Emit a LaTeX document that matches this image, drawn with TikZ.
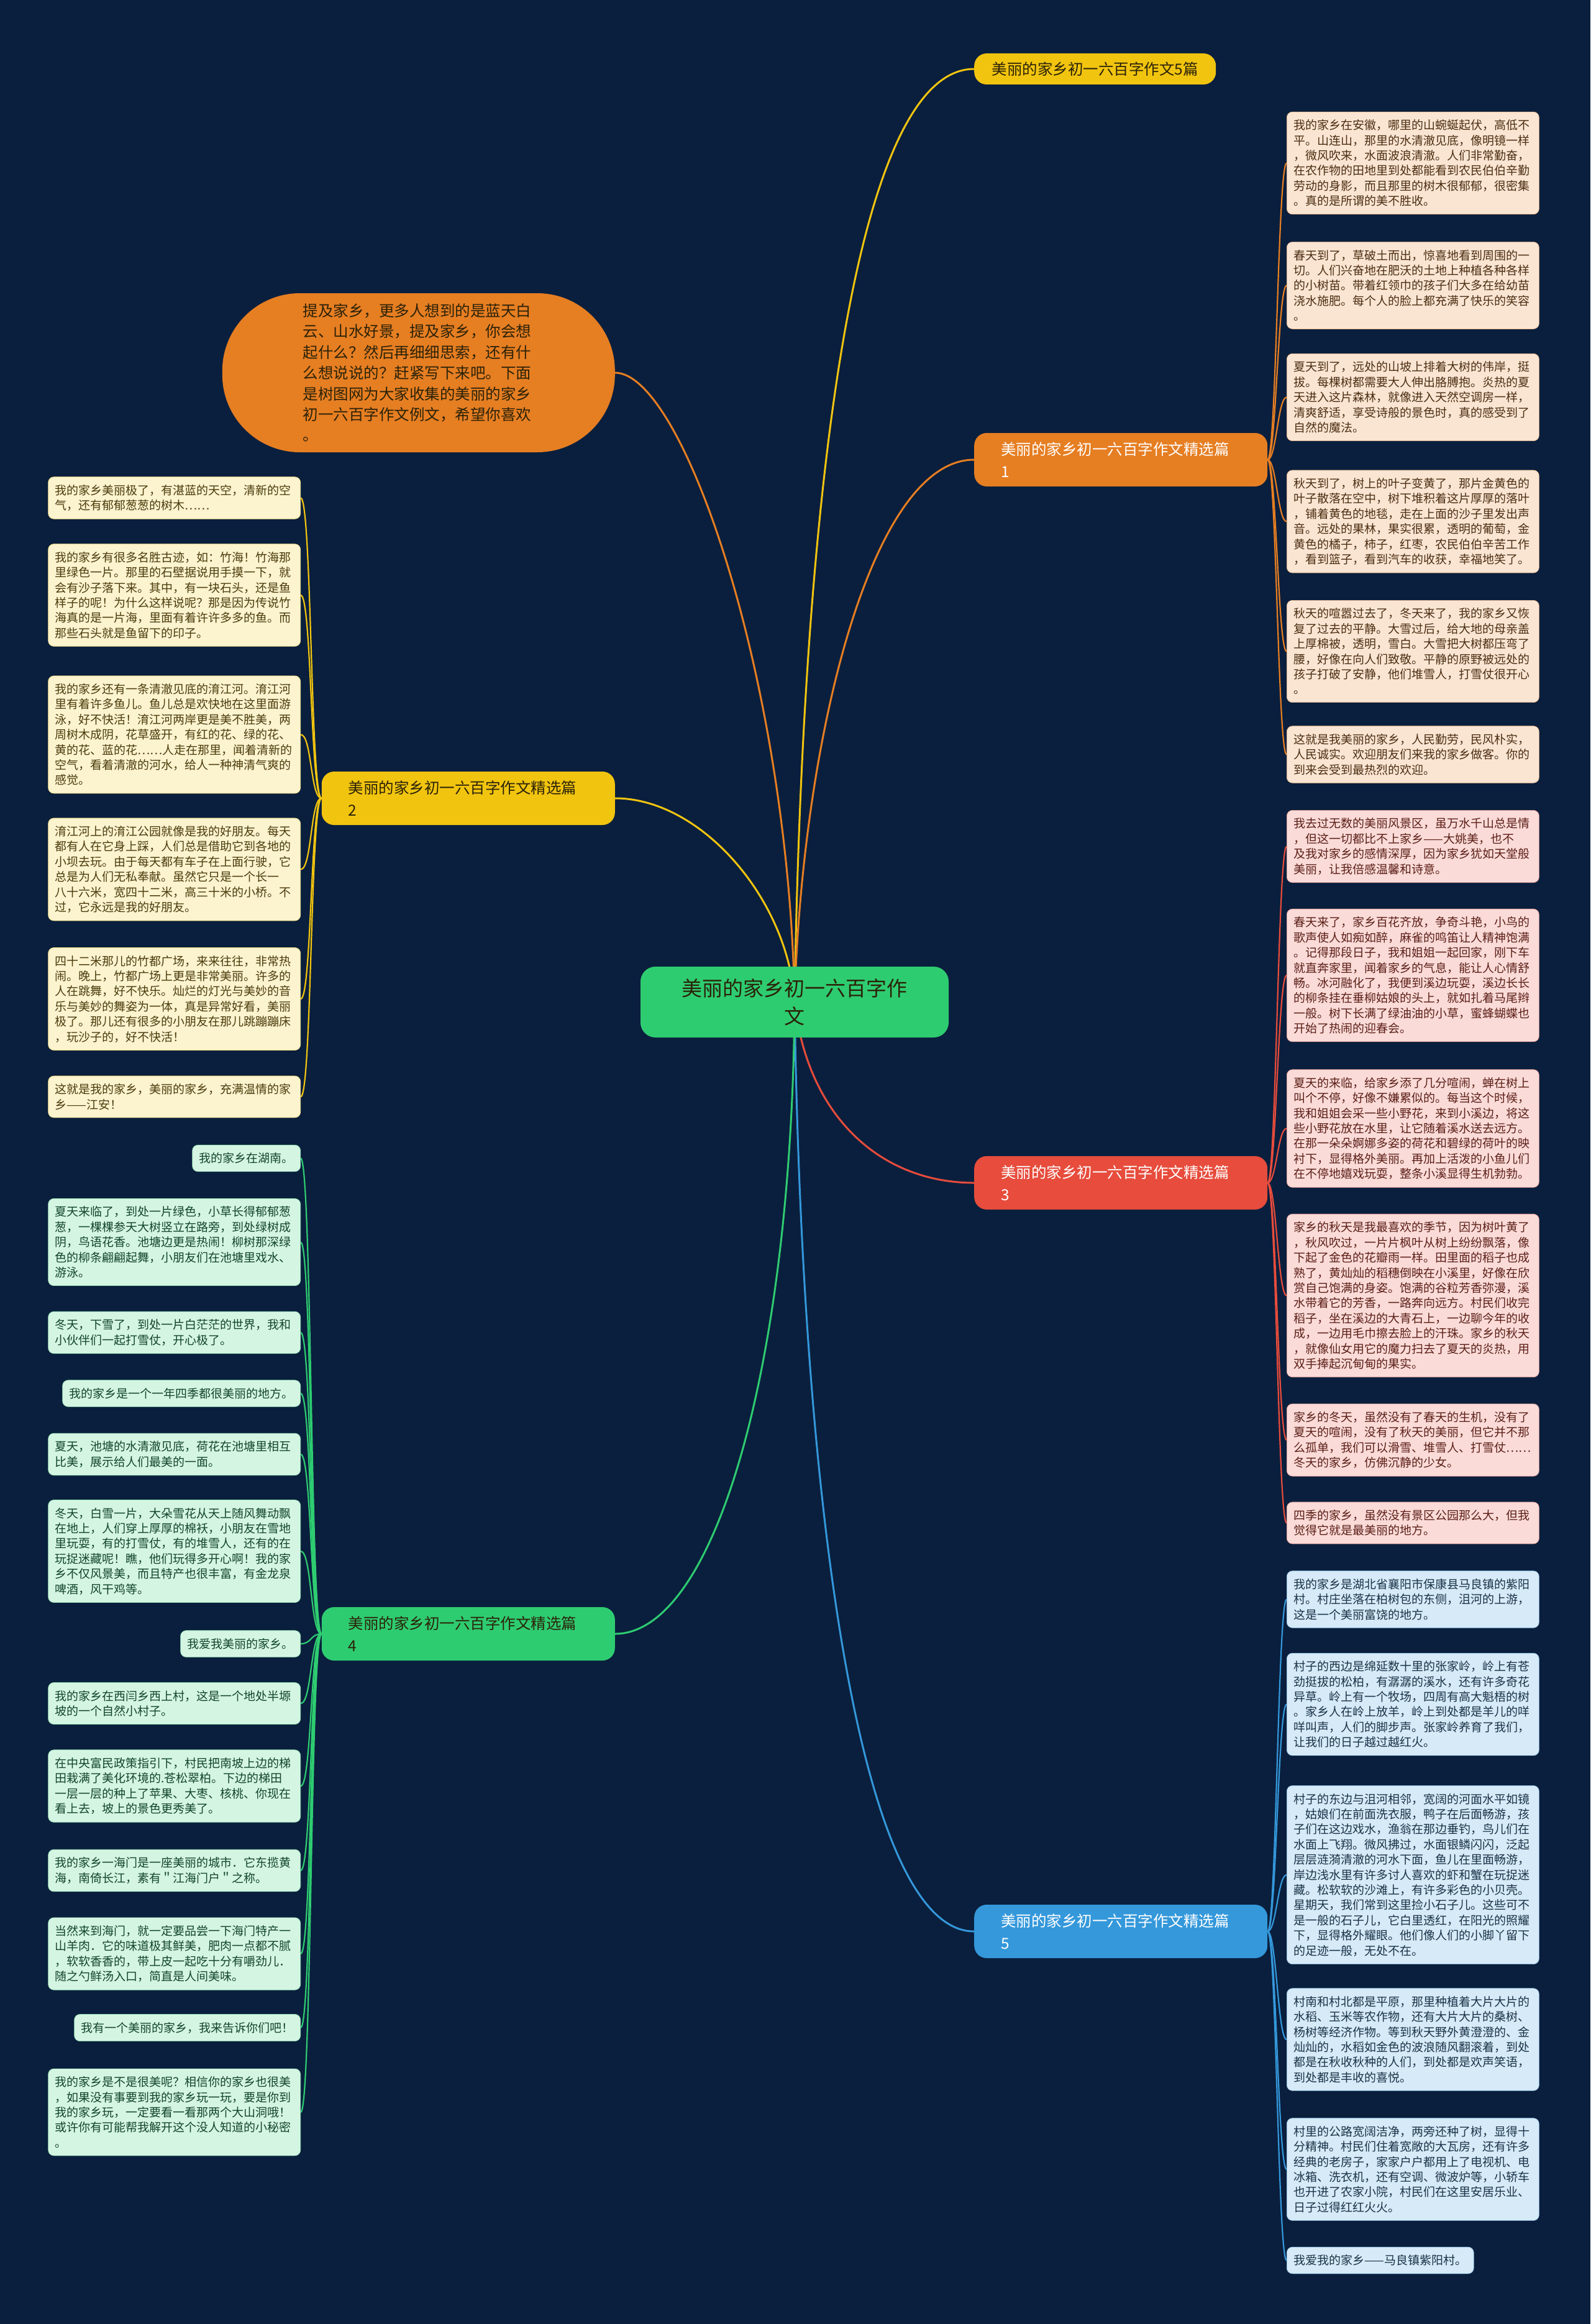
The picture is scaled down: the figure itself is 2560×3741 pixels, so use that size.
\documentclass[tikz,border=0pt]{standalone}
\usepackage{fontspec}
\setmainfont{Noto Sans CJK SC}
\pgfdeclarelayer{back}
\pgfdeclarelayer{bg}
\pgfsetlayers{back,bg,main}
\definecolor{bgc}{HTML}{0A1F3D}
\definecolor{cgreen}{HTML}{2ECC71}
\definecolor{cyellow}{HTML}{F1C40F}
\definecolor{corange}{HTML}{E67E22}
\definecolor{cred}{HTML}{E74C3C}
\definecolor{cblue}{HTML}{3498DB}
\definecolor{fo}{HTML}{FAE5D3}
\definecolor{fr}{HTML}{FADBD8}
\definecolor{fb}{HTML}{D6EAF8}
\definecolor{fy}{HTML}{FCF3CF}
\definecolor{fg}{HTML}{D5F5E3}
\definecolor{to}{HTML}{4B2E12}
\definecolor{tr}{HTML}{5C1F17}
\definecolor{tb}{HTML}{1A3347}
\definecolor{ty}{HTML}{4A3C0C}
\definecolor{tg}{HTML}{12452A}
\definecolor{tdark}{HTML}{2B2208}
\begin{document}
\begin{tikzpicture}[x=1pt,y=-1pt,
  leaf/.style={draw, line width=0.7pt, rounded corners=9pt, inner xsep=11pt, inner ysep=12.5pt, font=\fontsize{19}{24.4}\selectfont, align=left},
  leafw/.style={leaf, text width=384pt},
  lo/.style={fill=fo, draw=corange!40!fo, text=to},
  lr/.style={fill=fr, draw=cred!40!fr, text=tr},
  lb/.style={fill=fb, draw=cblue!40!fb, text=tb},
  ly/.style={fill=fy, draw=cyellow!40!fy, text=ty},
  lg/.style={fill=fg, draw=cgreen!40!fg, text=tg},
  branch/.style={rounded corners=20pt, inner ysep=13pt, font=\fontsize{24.5}{36}\selectfont},
  branchw/.style={branch, text width=386pt, inner xsep=43pt, align=left, minimum height=86pt},
  conn/.style={line width=3pt},
  sub/.style={line width=2.2pt},
  hookR/.style={to path={.. controls ([xshift=14pt]\tikztostart) and ([xshift=-14pt]\tikztotarget) .. (\tikztotarget)}},
  hookL/.style={to path={.. controls ([xshift=-18pt]\tikztostart) and ([xshift=18pt]\tikztotarget) .. (\tikztotarget)}}
]
\useasboundingbox (0,0) rectangle (2560,3741);
\begin{pgfonlayer}{back}
\fill[bgc] (0,0) rectangle (2560,3741);
\end{pgfonlayer}

% central
\node[fill=cgreen, rounded corners=24pt, minimum width=496pt, minimum height=114pt, align=center, text=tdark, font=\fontsize{33}{45}\selectfont] (C) at (1279,1613) {美丽的家乡初一六百字作\\文};

% intro
\node[fill=corange, rounded corners=125pt, minimum width=632pt, minimum height=256pt, text width=372pt, align=left, text=tdark, font=\fontsize{24.5}{33.4}\selectfont, anchor=east] (I) at (990,600) {提及家乡，更多人想到的是蓝天白\\云、山水好景，提及家乡，你会想\\起什么？然后再细细思索，还有什\\么想说说的？赶紧写下来吧。下面\\是树图网为大家收集的美丽的家乡\\初一六百字作文例文，希望你喜欢\\。};

% branches
\node[branch, fill=cyellow, text=tdark, minimum width=389pt, minimum height=50pt, anchor=west] (B0) at (1568,111) {美丽的家乡初一六百字作文5篇};
\node[branchw, fill=corange, text=white, anchor=west] (B1) at (1568,740) {美丽的家乡初一六百字作文精选篇\\1};
\node[branchw, fill=cyellow, text=tdark, anchor=east] (B2) at (990,1285) {美丽的家乡初一六百字作文精选篇\\2};
\node[branchw, fill=cred, text=white, anchor=west] (B3) at (1568,1904) {美丽的家乡初一六百字作文精选篇\\3};
\node[branchw, fill=cgreen, text=tdark, anchor=east] (B4) at (990,2630) {美丽的家乡初一六百字作文精选篇\\4};
\node[branchw, fill=cblue, text=white, anchor=west] (B5) at (1568,3109) {美丽的家乡初一六百字作文精选篇\\5};

% right leaves, branch 1
\node[leafw, lo, anchor=west] (r1a) at (2071,262.5) {我的家乡在安徽，哪里的山蜿蜒起伏，高低不\\平。山连山，那里的水清澈见底，像明镜一样\\，微风吹来，水面波浪清澈。人们非常勤奋，\\在农作物的田地里到处都能看到农民伯伯辛勤\\劳动的身影，而且那里的树木很郁郁，很密集\\。真的是所谓的美不胜收。};
\node[leafw, lo, anchor=west] (r1b) at (2071,459.5) {春天到了，草破土而出，惊喜地看到周围的一\\切。人们兴奋地在肥沃的土地上种植各种各样\\的小树苗。带着红领巾的孩子们大多在给幼苗\\浇水施肥。每个人的脸上都充满了快乐的笑容\\。};
\node[leafw, lo, anchor=west] (r1c) at (2071,639.5) {夏天到了，远处的山坡上排着大树的伟岸，挺\\拔。每棵树都需要大人伸出胳膊抱。炎热的夏\\天进入这片森林，就像进入天然空调房一样，\\清爽舒适，享受诗般的景色时，真的感受到了\\自然的魔法。};
\node[leafw, lo, anchor=west] (r1d) at (2071,839.5) {秋天到了，树上的叶子变黄了，那片金黄色的\\叶子散落在空中，树下堆积着这片厚厚的落叶\\，铺着黄色的地毯，走在上面的沙子里发出声\\音。远处的果林，果实很累，透明的葡萄，金\\黄色的橘子，柿子，红枣，农民伯伯辛苦工作\\，看到篮子，看到汽车的收获，幸福地笑了。};
\node[leafw, lo, anchor=west] (r1e) at (2071,1048.5) {秋天的喧嚣过去了，冬天来了，我的家乡又恢\\复了过去的平静。大雪过后，给大地的母亲盖\\上厚棉被，透明，雪白。大雪把大树都压弯了\\腰，好像在向人们致敬。平静的原野被远处的\\孩子打破了安静，他们堆雪人，打雪仗很开心\\。};
\node[leafw, lo, anchor=west] (r1f) at (2071,1214.5) {这就是我美丽的家乡，人民勤劳，民风朴实，\\人民诚实。欢迎朋友们来我的家乡做客。你的\\到来会受到最热烈的欢迎。};

% right leaves, branch 3
\node[leafw, lr, anchor=west] (r3a) at (2071,1362.5) {我去过无数的美丽风景区，虽万水千山总是情\\，但这一切都比不上家乡——大姚美，也不\\及我对家乡的感情深厚，因为家乡犹如天堂般\\美丽，让我倍感温馨和诗意。};
\node[leafw, lr, anchor=west] (r3b) at (2071,1570) {春天来了，家乡百花齐放，争奇斗艳，小鸟的\\歌声使人如痴如醉，麻雀的鸣笛让人精神饱满\\。记得那段日子，我和姐姐一起回家，刚下车\\就直奔家里，闻着家乡的气息，能让人心情舒\\畅。冰河融化了，我便到溪边玩耍，溪边长长\\的柳条挂在垂柳姑娘的头上，就如扎着马尾辫\\一般。树下长满了绿油油的小草，蜜蜂蝴蝶也\\开始了热闹的迎春会。};
\node[leafw, lr, anchor=west] (r3c) at (2071,1816.5) {夏天的来临，给家乡添了几分喧闹，蝉在树上\\叫个不停，好像不嫌累似的。每当这个时候，\\我和姐姐会采一些小野花，来到小溪边，将这\\些小野花放在水里，让它随着溪水送去远方。\\在那一朵朵婀娜多姿的荷花和碧绿的荷叶的映\\衬下，显得格外美丽。再加上活泼的小鱼儿们\\在不停地嬉戏玩耍，整条小溪显得生机勃勃。};
\node[leafw, lr, anchor=west] (r3d) at (2071,2085.5) {家乡的秋天是我最喜欢的季节，因为树叶黄了\\，秋风吹过，一片片枫叶从树上纷纷飘落，像\\下起了金色的花瓣雨一样。田里面的稻子也成\\熟了，黄灿灿的稻穗倒映在小溪里，好像在欣\\赏自己饱满的身姿。饱满的谷粒芳香弥漫，溪\\水带着它的芳香，一路奔向远方。村民们收完\\稻子，坐在溪边的大青石上，一边聊今年的收\\成，一边用毛巾擦去脸上的汗珠。家乡的秋天\\，就像仙女用它的魔力扫去了夏天的炎热，用\\双手捧起沉甸甸的果实。};
\node[leafw, lr, anchor=west] (r3e) at (2071,2318) {家乡的冬天，虽然没有了春天的生机，没有了\\夏天的喧闹，没有了秋天的美丽，但它并不那\\么孤单，我们可以滑雪、堆雪人、打雪仗……\\冬天的家乡，仿佛沉静的少女。};
\node[leafw, lr, anchor=west] (r3f) at (2071,2451.5) {四季的家乡，虽然没有景区公园那么大，但我\\觉得它就是最美丽的地方。};

% right leaves, branch 5
\node[leafw, lb, anchor=west] (r5a) at (2071,2574.5) {我的家乡是湖北省襄阳市保康县马良镇的紫阳\\村。村庄坐落在柏树包的东侧，沮河的上游，\\这是一个美丽富饶的地方。};
\node[leafw, lb, anchor=west] (r5b) at (2071,2743.5) {村子的西边是绵延数十里的张家岭，岭上有苍\\劲挺拔的松柏，有潺潺的溪水，还有许多奇花\\异草。岭上有一个牧场，四周有高大魁梧的树\\。家乡人在岭上放羊，岭上到处都是羊儿的咩\\咩叫声，人们的脚步声。张家岭养育了我们，\\让我们的日子越过越红火。};
\node[leafw, lb, anchor=west] (r5c) at (2071,3018) {村子的东边与沮河相邻，宽阔的河面水平如镜\\，姑娘们在前面洗衣服，鸭子在后面畅游，孩\\子们在这边戏水，渔翁在那边垂钓，鸟儿们在\\水面上飞翔。微风拂过，水面银鳞闪闪，泛起\\层层涟漪清澈的河水下面，鱼儿在里面畅游，\\岸边浅水里有许多讨人喜欢的虾和蟹在玩捉迷\\藏。松软软的沙滩上，有许多彩色的小贝壳。\\星期天，我们常到这里捡小石子儿。这些可不\\是一般的石子儿，它白里透红，在阳光的照耀\\下，显得格外耀眼。他们像人们的小脚丫留下\\的足迹一般，无处不在。};
\node[leafw, lb, anchor=west] (r5d) at (2071,3283) {村南和村北都是平原，那里种植着大片大片的\\水稻、玉米等农作物，还有大片大片的桑树、\\杨树等经济作物。等到秋天野外黄澄澄的、金\\灿灿的，水稻如金色的波浪随风翻滚着，到处\\都是在秋收秋种的人们，到处都是欢声笑语，\\到处都是丰收的喜悦。};
\node[leafw, lb, anchor=west] (r5e) at (2071,3492) {村里的公路宽阔洁净，两旁还种了树，显得十\\分精神。村民们住着宽敞的大瓦房，还有许多\\经典的老房子，家家户户都用上了电视机、电\\冰箱、洗衣机，还有空调、微波炉等，小轿车\\也开进了农家小院，村民们在这里安居乐业、\\日子过得红红火火。};
\node[leaf, lb, anchor=west] (r5f) at (2071,3638.5) {我爱我的家乡——马良镇紫阳村。};

% left leaves, branch 2
\node[leafw, ly, anchor=east] (l2a) at (484,801.5) {我的家乡美丽极了，有湛蓝的天空，清新的空\\气，还有郁郁葱葱的树木……};
\node[leafw, ly, anchor=east] (l2b) at (484,958) {我的家乡有很多名胜古迹，如：竹海！竹海那\\里绿色一片。那里的石壁据说用手摸一下，就\\会有沙子落下来。其中，有一块石头，还是鱼\\样子的呢！为什么这样说呢？那是因为传说竹\\海真的是一片海，里面有着许许多多的鱼。而\\那些石头就是鱼留下的印子。};
\node[leafw, ly, anchor=east] (l2c) at (484,1182.5) {我的家乡还有一条清澈见底的淯江河。淯江河\\里有着许多鱼儿。鱼儿总是欢快地在这里面游\\泳，好不快活！淯江河两岸更是美不胜美，两\\周树木成阴，花草盛开，有红的花、绿的花、\\黄的花、蓝的花……人走在那里，闻着清新的\\空气，看着清澈的河水，给人一种神清气爽的\\感觉。};
\node[leafw, ly, anchor=east] (l2d) at (484,1399.5) {淯江河上的淯江公园就像是我的好朋友。每天\\都有人在它身上踩，人们总是借助它到各地的\\小坝去玩。由于每天都有车子在上面行驶，它\\总是为人们无私奉献。虽然它只是一个长一\\八十六米，宽四十二米，高三十米的小桥。不\\过，它永远是我的好朋友。};
\node[leafw, ly, anchor=east] (l2e) at (484,1608) {四十二米那儿的竹都广场，来来往往，非常热\\闹。晚上，竹都广场上更是非常美丽。许多的\\人在跳舞，好不快乐。灿烂的灯光与美妙的音\\乐与美妙的舞姿为一体，真是异常好看，美丽\\极了。那儿还有很多的小朋友在那儿跳蹦蹦床\\，玩沙子的，好不快活！};
\node[leafw, ly, anchor=east] (l2f) at (484,1765.5) {这就是我的家乡，美丽的家乡，充满温情的家\\乡——江安！};

% left leaves, branch 4
\node[leaf, lg, anchor=east] (l4a) at (484,1864.5) {我的家乡在湖南。};
\node[leafw, lg, anchor=east] (l4b) at (484,1999.5) {夏天来临了，到处一片绿色，小草长得郁郁葱\\葱，一棵棵参天大树竖立在路旁，到处绿树成\\阴，鸟语花香。池塘边更是热闹！柳树那深绿\\色的柳条翩翩起舞，小朋友们在池塘里戏水、\\游泳。};
\node[leafw, lg, anchor=east] (l4c) at (484,2145) {冬天，下雪了，到处一片白茫茫的世界，我和\\小伙伴们一起打雪仗，开心极了。};
\node[leaf, lg, anchor=east] (l4d) at (484,2243) {我的家乡是一个一年四季都很美丽的地方。};
\node[leafw, lg, anchor=east] (l4e) at (484,2341) {夏天，池塘的水清澈见底，荷花在池塘里相互\\比美，展示给人们最美的一面。};
\node[leafw, lg, anchor=east] (l4f) at (484,2497) {冬天，白雪一片，大朵雪花从天上随风舞动飘\\在地上，人们穿上厚厚的棉袄，小朋友在雪地\\里玩耍，有的打雪仗，有的堆雪人，还有的在\\玩捉迷藏呢！瞧，他们玩得多开心啊！我的家\\乡不仅风景美，而且特产也很丰富，有金龙泉\\啤酒，风干鸡等。};
\node[leaf, lg, anchor=east] (l4g) at (484,2646) {我爱我美丽的家乡。};
\node[leafw, lg, anchor=east] (l4h) at (484,2742) {我的家乡在西闫乡西上村，这是一个地处半塬\\坡的一个自然小村子。};
\node[leafw, lg, anchor=east] (l4i) at (484,2875) {在中央富民政策指引下，村民把南坡上边的梯\\田栽满了美化环境的.苍松翠柏。下边的梯田\\一层一层的种上了苹果、大枣、核桃、你现在\\看上去，坡上的景色更秀美了。};
\node[leafw, lg, anchor=east] (l4j) at (484,3011) {我的家乡一海门是一座美丽的城市．它东揽黄\\海，南倚长江，素有＂江海门户＂之称。};
\node[leafw, lg, anchor=east] (l4k) at (484,3145) {当然来到海门，就一定要品尝一下海门特产一\\山羊肉．它的味道极其鲜美，肥肉一点都不腻\\，软软香香的，带上皮一起吃十分有嚼劲儿．\\随之勺鲜汤入口，简直是人间美味。};
\node[leaf, lg, anchor=east] (l4l) at (484,3264) {我有一个美丽的家乡，我来告诉你们吧！};
\node[leafw, lg, anchor=east] (l4m) at (484,3400) {我的家乡是不是很美呢？相信你的家乡也很美\\，如果没有事要到我的家乡玩一玩，要是你到\\我的家乡玩，一定要看一看那两个大山洞哦！\\或许你有可能帮我解开这个没人知道的小秘密\\。};

\begin{pgfonlayer}{bg}
% center to branches
\draw[conn, cyellow] (C.center) .. controls (1290,900) and (1360,111) .. (B0.west);
\draw[conn, corange] (C.center) .. controls (1290,1200) and (1400,740) .. (B1.west);
\draw[conn, cred] (C.center) .. controls (1300,1800) and (1420,1904) .. (B3.west);
\draw[conn, cblue] (C.center) .. controls (1290,2400) and (1380,3109) .. (B5.west);
\draw[conn, corange] (C.center) .. controls (1270,1100) and (1100,600) .. (I.east);
\draw[conn, cyellow] (C.center) .. controls (1270,1450) and (1130,1285) .. (B2.east);
\draw[conn, cgreen] (C.center) .. controls (1275,2200) and (1150,2630) .. (B4.east);
% branch to leaves
\foreach \n in {r1a,r1b,r1c,r1d,r1e,r1f} \draw[sub, corange] (B1.east) to[hookR] (\n.west);
\foreach \n in {r3a,r3b,r3c,r3d,r3e,r3f} \draw[sub, cred] (B3.east) to[hookR] (\n.west);
\foreach \n in {r5a,r5b,r5c,r5d,r5e,r5f} \draw[sub, cblue] (B5.east) to[hookR] (\n.west);
\foreach \n in {l2a,l2b,l2c,l2d,l2e,l2f} \draw[sub, cyellow] (B2.west) to[hookL] (\n.east);
\foreach \n in {l4a,l4b,l4c,l4d,l4e,l4f,l4g,l4h,l4i,l4j,l4k,l4l,l4m} \draw[sub, cgreen] (B4.west) to[hookL] (\n.east);
\end{pgfonlayer}
\end{tikzpicture}
\end{document}
